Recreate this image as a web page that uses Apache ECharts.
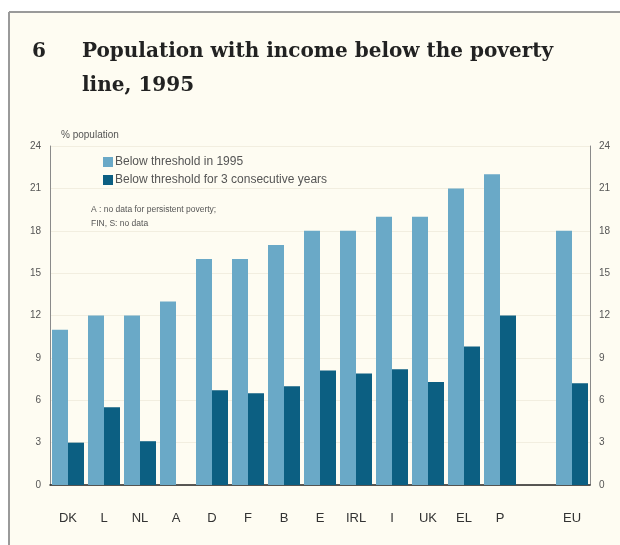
<!DOCTYPE html>
<html>
<head>
<meta charset="utf-8">
<script src="https://cdn.jsdelivr.net/npm/echarts@6/dist/echarts.min.js"></script>
<style>
html,body{margin:0;padding:0;background:#ffffff;}
#chart{width:620px;height:545px;}
</style>
</head>
<body>
<div id="chart"></div>
<script>
var categories = ['DK','L','NL','A','D','F','B','E','IRL','I','UK','EL','P','','EU'];
var below1995 = [11,12,12,13,16,16,17,18,18,19,19,21,22,null,18];
var below3years = [3,5.5,3.1,null,6.7,6.5,7,8.1,7.9,8.2,7.3,9.8,12,null,7.2];
var yTicks = {min:0, max:24, interval:3};
var seriesNames = ['Below threshold in 1995','Below threshold for 3 consecutive years'];

var lightColor = '#6aa9c7';
var darkColor = '#0c5f82';
var sans = 'Liberation Sans, Arial, sans-serif';

var chart = echarts.init(document.getElementById('chart'), null, {renderer:'canvas'});
var yAxisCommon = {
  type:'value', min:yTicks.min, max:yTicks.max, interval:yTicks.interval,
  axisLine:{show:true, lineStyle:{color:'#8a8a8a', width:1}},
  axisTick:{show:false},
  axisLabel:{color:'#555', fontSize:10, fontFamily:sans, margin:9},
  splitLine:{show:true, lineStyle:{color:'#f2eee0', width:1}}
};
chart.setOption({
  backgroundColor:'#ffffff',
  animation:false,
  graphic:[
    {type:'rect', shape:{x:9,y:12,width:611,height:533}, style:{fill:'#fefcf2'}, z:-10},
    {type:'line', shape:{x1:9,y1:12,x2:620,y2:12}, style:{stroke:'#9a9a9a', lineWidth:2}},
    {type:'line', shape:{x1:9,y1:12,x2:9,y2:545}, style:{stroke:'#9a9a9a', lineWidth:2}}
  ],
  title:[
    {text:'6', left:27, top:30, textStyle:{fontFamily:'DejaVu Serif', fontWeight:'bold', fontSize:20, color:'#222', lineHeight:34}},
    {text:'Population with income below the poverty\nline, 1995', left:77, top:30,
     textStyle:{fontFamily:'DejaVu Serif', fontWeight:'bold', fontSize:20, color:'#222', lineHeight:34}},
    {text:'% population', left:56, top:125, textStyle:{fontFamily:sans, fontSize:10, fontWeight:'normal', color:'#555'}},
    {text:'A : no data for persistent poverty;\nFIN, S: no data', left:86, top:198,
     textStyle:{fontFamily:sans, fontSize:8.5, fontWeight:'normal', color:'#555', lineHeight:14}}
  ],
  legend:{
    orient:'vertical', left:98, top:151, itemWidth:10, itemHeight:10, itemGap:6,
    icon:'rect',
    textStyle:{fontFamily:sans, fontSize:12, color:'#555', padding:[0,0,0,-3]},
    data:seriesNames
  },
  grid:{left:50, right:30, top:146, bottom:60},
  xAxis:{
    type:'category', data:categories,
    axisLine:{show:true, lineStyle:{color:'#222', width:1.5}},
    axisTick:{show:false},
    axisLabel:{color:'#333', fontSize:13, fontFamily:sans, margin:27, interval:0}
  },
  yAxis:[
    Object.assign({position:'left'}, yAxisCommon),
    Object.assign({position:'right'}, yAxisCommon, {splitLine:{show:false}})
  ],
  series:[
    {name:seriesNames[0], type:'bar', data:below1995, barWidth:16, barGap:'0%', itemStyle:{color:lightColor}},
    {name:seriesNames[1], type:'bar', data:below3years, barWidth:16, barGap:'0%', itemStyle:{color:darkColor}}
  ]
});
</script>
</body>
</html>
